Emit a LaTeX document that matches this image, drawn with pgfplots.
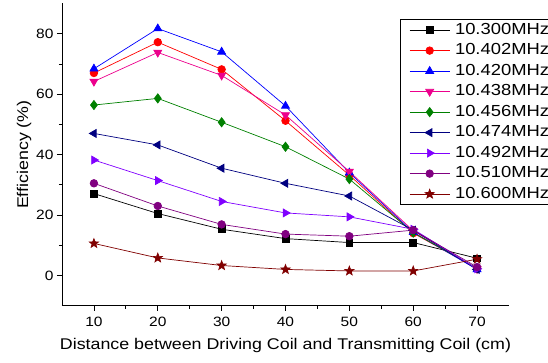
\documentclass[border=0pt]{standalone}
\usepackage{fontspec}
\setmainfont{Liberation Sans}[FakeStretch=1.15]
\usepackage{pgfplots}
\pgfplotsset{compat=1.18}
\usetikzlibrary{plotmarks}
\definecolor{cnavy}{RGB}{0,0,128}
\definecolor{cviolet}{RGB}{128,0,255}
\definecolor{cpurple}{RGB}{128,0,128}
\definecolor{cdred}{RGB}{128,0,0}
\definecolor{cgreen}{RGB}{0,128,0}
\pgfdeclareplotmark{fstar}{%
  \pgfpathmoveto{\pgfpointpolar{90}{\pgfplotmarksize}}%
  \pgfpathlineto{\pgfpointpolar{126}{0.42\pgfplotmarksize}}%
  \pgfpathlineto{\pgfpointpolar{162}{\pgfplotmarksize}}%
  \pgfpathlineto{\pgfpointpolar{198}{0.42\pgfplotmarksize}}%
  \pgfpathlineto{\pgfpointpolar{234}{\pgfplotmarksize}}%
  \pgfpathlineto{\pgfpointpolar{270}{0.42\pgfplotmarksize}}%
  \pgfpathlineto{\pgfpointpolar{306}{\pgfplotmarksize}}%
  \pgfpathlineto{\pgfpointpolar{342}{0.42\pgfplotmarksize}}%
  \pgfpathlineto{\pgfpointpolar{18}{\pgfplotmarksize}}%
  \pgfpathlineto{\pgfpointpolar{54}{0.42\pgfplotmarksize}}%
  \pgfpathclose
  \pgfusepathqfillstroke}
\pgfplotsset{mylegend/.style={legend image code/.code={\draw[mark repeat=2,mark phase=2] plot coordinates {(0pt,0pt) (20pt,0pt) (40pt,0pt)}; \path (44pt,0pt);}}}
\begin{document}
\begin{tikzpicture}[x=1pt,y=1pt]
\useasboundingbox (0,0) rectangle (548,362);
\begin{axis}[
  at={(62pt,56.3pt)}, anchor=south west,
  scale only axis, width=447pt, height=302.2pt,
  xmin=5, xmax=75, ymin=-10, ymax=90,
  axis lines=left, axis line style={-, line width=0.8pt},
  xtick={10,20,...,70}, ytick={0,20,...,80},
  minor x tick num=1, minor y tick num=1,
  tick align=outside, tick style={line width=0.8pt, black},
  major tick length=5pt, minor tick length=3pt,
  /pgf/number format/assume math mode=true,
  ticklabel style={font=\fontsize{13.5}{15}\selectfont},
  xticklabel style={yshift=-3pt},
  label style={font=\fontsize{15.5}{17}\selectfont},
  xlabel={Distance between Driving Coil and Transmitting Coil (cm)},
  ylabel={Efficiency (\%)},
  xlabel style={yshift=-5pt},
  ylabel style={yshift=-2pt},
  every axis plot/.append style={line width=0.7pt},
  every axis plot post/.append style={mylegend},
  legend cell align=left,
  legend style={at={(0.756,0.948)}, anchor=north west, draw=black, line width=0.8pt,
    font=\fontsize{16}{18}\selectfont, inner xsep=9pt, inner ysep=2pt,
    nodes={inner sep=1pt, text height=11.5pt, text depth=3.5pt}, row sep=3.5pt},
]
\addplot[black, mark=square*, mark size=3.4pt] coordinates {(10,27.1)(20,20.5)(30,15.3)(40,12.2)(50,10.9)(60,10.9)(70,5.7)};
\addlegendentry{10.300MHz}
\addplot[red, mark=*, mark size=3.8pt] coordinates {(10,67.0)(20,77.2)(30,68.2)(40,51.2)(50,33.2)(60,14.0)(70,2.3)};
\addlegendentry{10.402MHz}
\addplot[blue, mark=triangle*, mark size=4.6pt] coordinates {(10,68.4)(20,81.7)(30,74.0)(40,56.1)(50,34.0)(60,14.3)(70,2.0)};
\addlegendentry{10.420MHz}
\addplot[magenta, mark=triangle*, mark size=4.6pt, mark options={rotate=180}] coordinates {(10,64.2)(20,73.8)(30,66.2)(40,53.1)(50,34.4)(60,14.8)(70,2.2)};
\addlegendentry{10.438MHz}
\addplot[cgreen, mark=diamond*, mark size=4.6pt] coordinates {(10,56.4)(20,58.6)(30,50.7)(40,42.6)(50,31.9)(60,14.2)(70,2.4)};
\addlegendentry{10.456MHz}
\addplot[cnavy, mark=triangle*, mark size=4.6pt, mark options={rotate=90}] coordinates {(10,47.0)(20,43.2)(30,35.5)(40,30.5)(50,26.3)(60,15.0)(70,2.0)};
\addlegendentry{10.474MHz}
\addplot[cviolet, mark=triangle*, mark size=4.6pt, mark options={rotate=-90}] coordinates {(10,38.2)(20,31.4)(30,24.5)(40,20.7)(50,19.4)(60,15.3)(70,2.2)};
\addlegendentry{10.492MHz}
\addplot[cpurple, mark=*, mark size=3.8pt] coordinates {(10,30.5)(20,23.0)(30,16.9)(40,13.7)(50,13.0)(60,15.0)(70,2.8)};
\addlegendentry{10.510MHz}
\addplot[cdred, mark=fstar, mark size=4.8pt, mark options={fill=cdred}] coordinates {(10,10.6)(20,5.8)(30,3.3)(40,2.0)(50,1.5)(60,1.5)(70,5.4)};
\addlegendentry{10.600MHz}
\end{axis}
\end{tikzpicture}
\end{document}
